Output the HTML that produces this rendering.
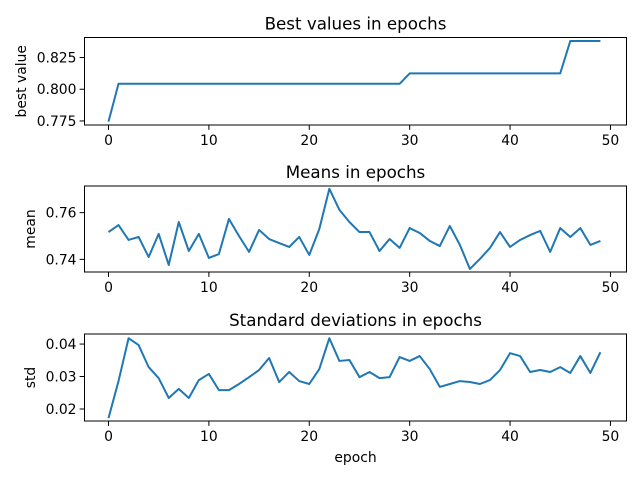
<!DOCTYPE html>
<html><head><meta charset="utf-8"><style>
html,body{margin:0;padding:0;background:#fff;}
svg{display:block;font-family:"DejaVu Sans","Liberation Sans",sans-serif;}
</style></head><body>
<svg id="fig" width="640" height="480" viewBox="0 0 640 480" xmlns="http://www.w3.org/2000/svg"></svg>
<script>
const epochs = Array.from({length:50},(_,i)=>i);
const bestValues = [0.7745,0.8043,0.8043,0.8043,0.8043,0.8043,0.8043,0.8043,0.8043,0.8043,0.8043,0.8043,0.8043,0.8043,0.8043,0.8043,0.8043,0.8043,0.8043,0.8043,0.8043,0.8043,0.8043,0.8043,0.8043,0.8043,0.8043,0.8043,0.8043,0.8043,0.8125,0.8125,0.8125,0.8125,0.8125,0.8125,0.8125,0.8125,0.8125,0.8125,0.8125,0.8125,0.8125,0.8125,0.8125,0.8125,0.838,0.838,0.838,0.838];
const meanValues = [0.7517,0.7547,0.7483,0.7496,0.7410,0.7509,0.7376,0.7560,0.7436,0.7509,0.7406,0.7423,0.7573,0.7500,0.7432,0.7526,0.7487,0.7470,0.7453,0.7496,0.7419,0.7530,0.7702,0.7612,0.7560,0.7517,0.7517,0.7436,0.7487,0.7449,0.7534,0.7513,0.7479,0.7457,0.7543,0.7462,0.7359,0.7402,0.7449,0.7517,0.7453,0.7483,0.7504,0.7522,0.7432,0.7534,0.7496,0.7534,0.7462,0.7479];
const stdValues = [0.0172,0.0286,0.0418,0.0397,0.0329,0.0295,0.0234,0.0262,0.0234,0.0289,0.0308,0.0258,0.0258,0.0277,0.0298,0.0320,0.0357,0.0283,0.0314,0.0286,0.0277,0.0323,0.0418,0.0348,0.0351,0.0298,0.0314,0.0295,0.0298,0.0360,0.0348,0.0363,0.0323,0.0268,0.0277,0.0286,0.0283,0.0277,0.0289,0.0320,0.0372,0.0363,0.0314,0.0320,0.0314,0.0329,0.0311,0.0363,0.0311,0.0375];
const xTicks = [0,10,20,30,40,50];
const bestTicks = [0.775,0.800,0.825];
const meanTicks = [0.74,0.76];
const stdTicks = [0.02,0.03,0.04];

const NS="http://www.w3.org/2000/svg";
const svg=document.getElementById('fig');
function el(tag,attrs,parent){const e=document.createElementNS(NS,tag);for(const k in attrs)e.setAttribute(k,attrs[k]);(parent||svg).appendChild(e);return e;}
const L=84.5,R=626.5;
const xMin=-2.39,xMax=51.6;
function xs(v){return L+(v-xMin)/(xMax-xMin)*(R-L);}
const TF=13.9, TT=16.7;

function panel(key,top,bottom,yMin,yMax,vals,ticks,fmt,title,ylabel,yLabelX,showXLabel){
  const g=el('g',{});
  
  
  const ys=v=>bottom-(v-yMin)/(yMax-yMin)*(bottom-top);
  const pts=epochs.map((e,i)=>xs(e).toFixed(2)+','+ys(vals[i]).toFixed(2)).join(' ');
  const line=el('polyline',{points:pts,fill:'none',stroke:'#1f77b4','stroke-width':2,'stroke-linejoin':'round'},g);
  
  
  const frame=el('rect',{x:L,y:top,width:R-L,height:bottom-top,fill:'none',stroke:'#000','stroke-width':1},g);
  
  
  xTicks.forEach(t=>{
    const x=xs(t);
    el('line',{x1:x,x2:x,y1:bottom,y2:bottom+4.9,stroke:'#000','stroke-width':1},g);
    const tx=el('text',{x:x,y:bottom+20,'text-anchor':'middle','font-size':TF},g);
    tx.textContent=t;
    
    
  });
  ticks.forEach(t=>{
    const y=ys(t);
    el('line',{x1:L-4.9,x2:L,y1:y,y2:y,stroke:'#000','stroke-width':1},g);
    const ty=el('text',{x:L-8,y:y+5,'text-anchor':'end','font-size':TF},g);
    ty.textContent=fmt(t);
    
    
  });
  const tt=el('text',{x:(L+R)/2,y:top-8,'text-anchor':'middle','font-size':TT},g);
  tt.textContent=title;
  
  
  const yl=el('text',{x:0,y:0,'text-anchor':'middle','font-size':TF,transform:`translate(${yLabelX},${(top+bottom)/2}) rotate(-90)`},g);
  yl.textContent=ylabel;
  
  
  if(showXLabel){
    const xl=el('text',{x:(L+R)/2,y:bottom+41,'text-anchor':'middle','font-size':TF},g);
    xl.textContent='epoch';
    
    
  }
}
panel('best',37.5,125,0.7718,0.8408,bestValues,bestTicks,t=>t.toFixed(3),'Best values in epochs','best value',26,false);
panel('mean',186,272,0.7346,0.7714,meanValues,meanTicks,t=>t.toFixed(2),'Means in epochs','mean',35,false);
panel('std',334,421,0.0163,0.0431,stdValues,stdTicks,t=>t.toFixed(2),'Standard deviations in epochs','std',35,true);
</script>
</body></html>
